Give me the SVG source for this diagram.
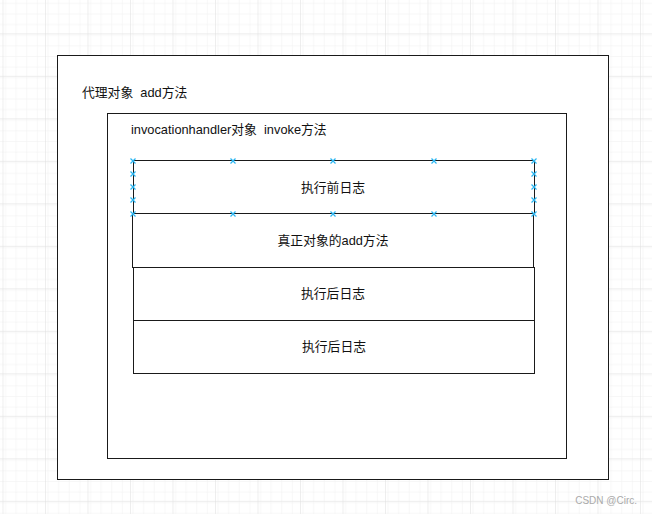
<svg xmlns="http://www.w3.org/2000/svg" width="652" height="514" viewBox="0 0 652 514">
<style>
.box{fill:#fff;stroke:#1a1a1a;stroke-width:1}
.t{font-family:"Liberation Sans","Noto Sans CJK SC",sans-serif;font-size:12.8px;fill:#111;white-space:pre}
.tc{text-anchor:middle}
.pt{stroke:#29b6f2;stroke-width:1.2;fill:none}
</style>
<defs>
<pattern id="minor" x="2.5" y="-9.2" width="10.625" height="10.625" patternUnits="userSpaceOnUse">
<path d="M0 0H10.625M0 0V10.625" stroke="#efefef" stroke-width="1" fill="none"/>
</pattern>
<pattern id="major" x="2.5" y="-9.2" width="42.5" height="42.5" patternUnits="userSpaceOnUse">
<rect width="42.5" height="42.5" fill="url(#minor)"/>
<path d="M0 0H42.5M0 0V42.5" stroke="#dedede" stroke-width="1" fill="none"/>
</pattern>
<g id="x"><path class="pt" d="M-2.5 -2.5L2.5 2.5M-2.5 2.5L2.5 -2.5"/></g>
</defs>
<rect width="652" height="514" fill="#fff"/>
<rect width="652" height="514" fill="url(#major)"/>

<g id="proxy">
<rect class="box" x="57.5" y="55.5" width="551" height="424" stroke="#333"/>
<text class="t" x="82" y="97" xml:space="preserve">代理对象  add方法</text>
</g>
<g id="handler">
<rect class="box" x="107.5" y="113.5" width="459" height="345"/>
<text class="t" x="131" y="134" xml:space="preserve">invocationhandler对象  invoke方法</text>
</g>
<g id="before">
<rect class="box" x="133.5" y="160.5" width="401" height="53"/>
<text class="t tc" x="333" y="192">执行前日志</text>
</g>
<g id="real">
<rect class="box" x="132.5" y="213.5" width="401" height="54"/>
<text class="t tc" x="333" y="245">真正对象的add方法</text>
</g>
<g id="after1">
<rect class="box" x="133.5" y="267.5" width="401" height="53"/>
<text class="t tc" x="333" y="298">执行后日志</text>
</g>
<g id="after2">
<rect class="box" x="133.5" y="320.5" width="401" height="53" stroke="#444"/>
<text class="t tc" x="334" y="351">执行后日志</text>
</g>
<g id="connectors">
<use href="#x" x="133" y="161"/><use href="#x" x="233" y="161"/><use href="#x" x="333" y="161"/><use href="#x" x="434" y="161"/><use href="#x" x="534" y="161"/>
<use href="#x" x="133" y="214"/><use href="#x" x="233" y="214"/><use href="#x" x="333" y="214"/><use href="#x" x="434" y="214"/><use href="#x" x="534" y="214"/>
<use href="#x" x="133" y="174"/><use href="#x" x="133" y="187"/><use href="#x" x="133" y="200"/>
<use href="#x" x="534" y="174"/><use href="#x" x="534" y="187"/><use href="#x" x="534" y="200"/>
</g>
<text x="637" y="504" text-anchor="end" font-family="Liberation Sans,sans-serif" font-size="10" fill="#aaa">CSDN @Circ.</text>
</svg>
